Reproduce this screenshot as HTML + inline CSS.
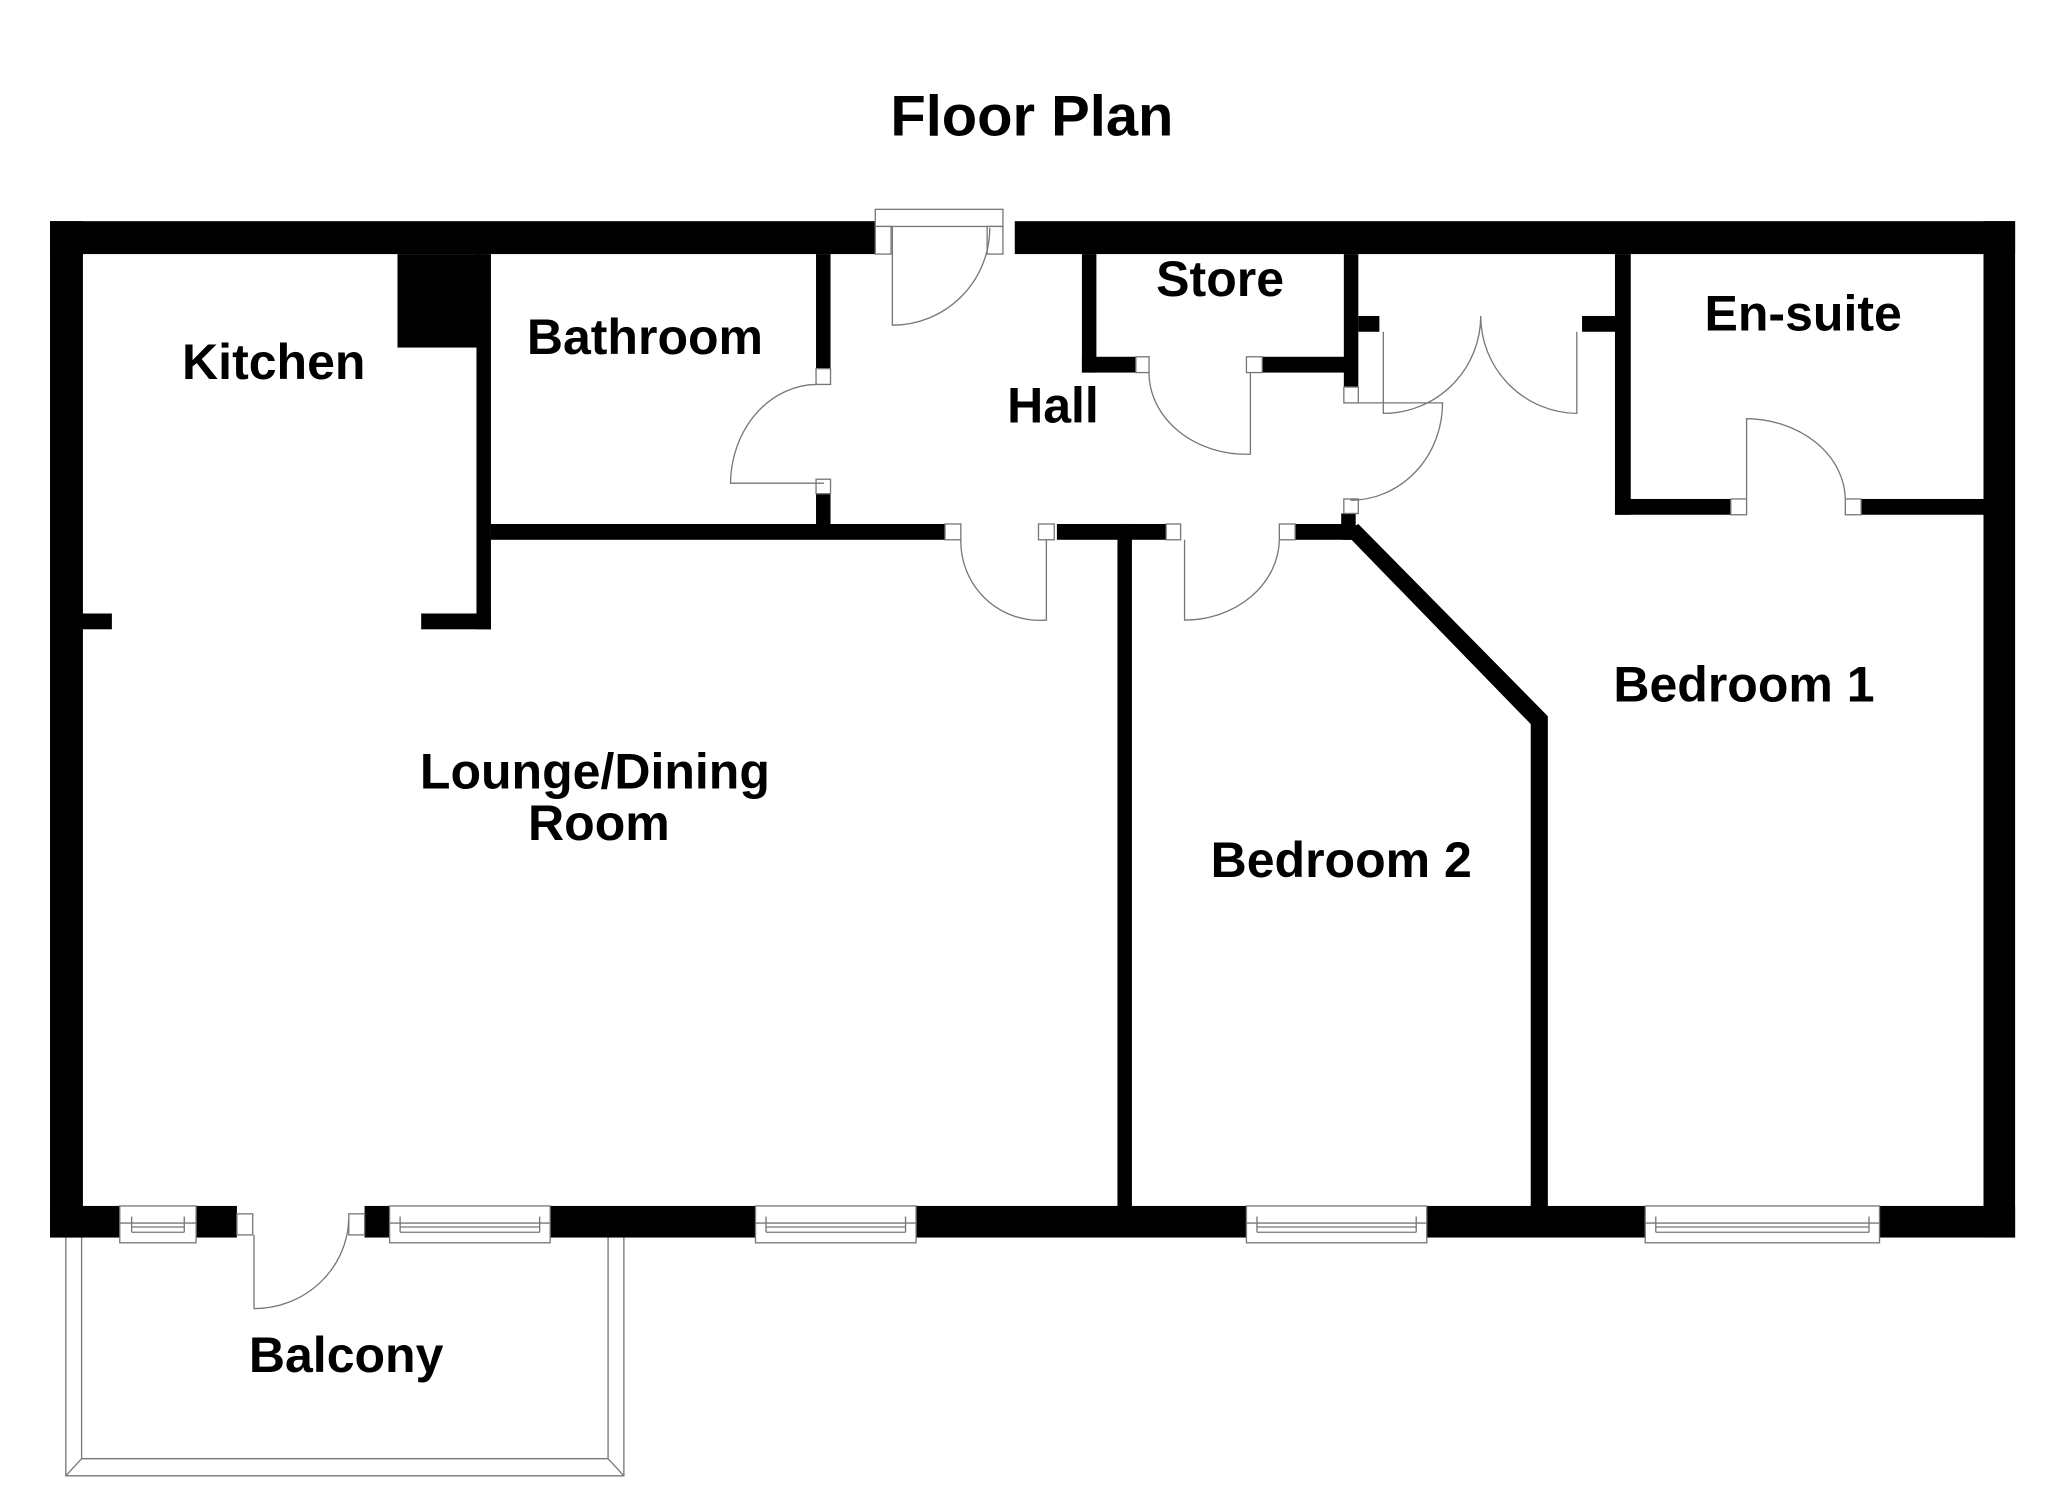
<!DOCTYPE html>
<html><head><meta charset="utf-8"><style>
html,body{margin:0;padding:0;background:#fff;}
svg{display:block;}
text{font-family:"Liberation Sans",Arial,sans-serif;font-weight:bold;fill:#000;text-anchor:middle;}
</style></head><body>
<svg width="2048" height="1489" viewBox="0 0 1556 1131" preserveAspectRatio="none" xmlns="http://www.w3.org/2000/svg">
<rect width="1556" height="1131" fill="#fff"/>
<g fill="#000">
<rect x="38" y="168" width="636" height="25"/>
<rect x="771" y="168" width="760" height="25"/>
<rect x="38" y="168" width="25" height="772"/>
<rect x="1507" y="168" width="24" height="772"/>
<rect x="38" y="916" width="53" height="24"/>
<rect x="149" y="916" width="31" height="24"/>
<rect x="277" y="916" width="19" height="24"/>
<rect x="418" y="916" width="156" height="24"/>
<rect x="696" y="916" width="251" height="24"/>
<rect x="1084" y="916" width="166" height="24"/>
<rect x="1428" y="916" width="103" height="24"/>
<rect x="302" y="193" width="64" height="71"/>
<rect x="362" y="193" width="11" height="285"/>
<rect x="320" y="466" width="53" height="12"/>
<rect x="62" y="466" width="23" height="12"/>
<rect x="373" y="398" width="345" height="12"/>
<rect x="620" y="193" width="11" height="87"/>
<rect x="620" y="375" width="11" height="25"/>
<rect x="803" y="398" width="83" height="12"/>
<rect x="849" y="398" width="11" height="520"/>
<rect x="984" y="398" width="44" height="12"/>
<rect x="1019" y="390" width="11" height="20"/>
<polygon points="1021,404 1032,398 1176,544 1176,916 1163,916 1163,550"/>
<rect x="822" y="193" width="11" height="90"/>
<rect x="822" y="271" width="41" height="12"/>
<rect x="959" y="271" width="63" height="12"/>
<rect x="1021" y="193" width="11" height="101"/>
<rect x="1032" y="240" width="16" height="12"/>
<rect x="1202" y="240" width="26" height="12"/>
<rect x="1227" y="193" width="12" height="198"/>
<rect x="1227" y="379" width="88" height="12"/>
<rect x="1414" y="379" width="96" height="12"/>
</g>
<g fill="#fff" stroke="#777" stroke-width="1">
<rect x="718" y="398" width="12" height="12"/>
<rect x="789" y="398" width="12" height="12"/>
<rect x="886" y="398" width="11" height="12"/>
<rect x="972" y="398" width="12" height="12"/>
<rect x="620" y="280" width="11" height="12"/>
<rect x="620" y="364" width="11" height="11"/>
<rect x="863" y="271" width="10" height="12"/>
<rect x="947" y="271" width="12" height="12"/>
<rect x="1021" y="294" width="11" height="12"/>
<rect x="1021" y="379" width="11" height="11"/>
<rect x="1315" y="379" width="12" height="12"/>
<rect x="1402" y="379" width="12" height="12"/>
<rect x="665" y="159" width="97" height="13"/>
<rect x="665" y="172" width="12" height="21"/>
<rect x="750" y="172" width="12" height="21"/>
<rect x="91" y="916" width="58" height="28"/>
<rect x="296" y="916" width="122" height="28"/>
<rect x="574" y="916" width="122" height="28"/>
<rect x="947" y="916" width="137" height="28"/>
<rect x="1250" y="916" width="178" height="28"/>
<rect x="180" y="922" width="12" height="16"/>
<rect x="265" y="922" width="12" height="16"/>
</g>
<g fill="none" stroke="#777" stroke-width="1">
<path d="M91 929H149M100 924V936M140 924V936M100 932H140M100 936H140"/>
<path d="M296 929H418M304 924V936M410 924V936M304 932H410M304 936H410"/>
<path d="M574 929H696M582 924V936M688 924V936M582 932H688M582 936H688"/>
<path d="M947 929H1084M955 924V936M1076 924V936M955 932H1076M955 936H1076"/>
<path d="M1250 929H1428M1258 924V936M1420 924V936M1258 932H1420M1258 936H1420"/>
<path d="M678 172V247A74 74 0 0 0 752 173"/>
<path d="M626 367H555A66 76 0 0 1 621 292"/>
<path d="M730 410A60 60 0 0 0 795 471V410"/>
<path d="M900 410V471A72 62 0 0 0 972 410"/>
<path d="M873 283A74 62 0 0 0 950 345V283"/>
<path d="M1032 306H1096A70 74 0 0 1 1026 380"/>
<path d="M1051 252V314A74 74 0 0 0 1125 240A74 74 0 0 0 1198 314V252"/>
<path d="M1327 379V318A76 62 0 0 1 1402 379"/>
<path d="M193 938V994A72 70 0 0 0 265 926"/>
<path d="M50 940V1121H474V940M62 940V1108H462V940M50 1121L62 1108M474 1121L462 1108"/>
</g>
<text x="784" y="103" font-size="44">Floor Plan</text>
<text x="208" y="288" font-size="38">Kitchen</text>
<text x="490" y="269" font-size="38">Bathroom</text>
<text x="800" y="321" font-size="38">Hall</text>
<text x="927" y="225" font-size="38">Store</text>
<text x="1370" y="251" font-size="38">En-suite</text>
<text x="1325" y="533" font-size="38">Bedroom 1</text>
<text x="452" y="599" font-size="38">Lounge/Dining</text>
<text x="455" y="638" font-size="38">Room</text>
<text x="1019" y="666" font-size="38">Bedroom 2</text>
<text x="263" y="1042" font-size="38">Balcony</text>
</svg>
</body></html>
